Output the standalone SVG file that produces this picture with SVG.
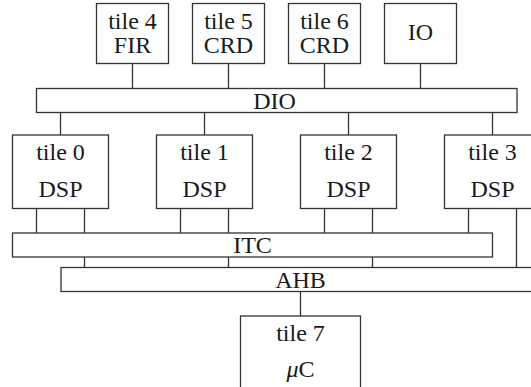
<svg xmlns="http://www.w3.org/2000/svg" width="531" height="387" viewBox="0 0 531 387">
<style>
rect{fill:#fff;stroke:#333;stroke-width:1.3}
line{stroke:#333;stroke-width:1.3}
</style>
<rect x="0" y="0" width="531" height="387" style="stroke:none"/>
<g id="connectors">
<line x1="132.5" y1="63.5" x2="132.5" y2="88.5"/>
<line x1="228.5" y1="63.5" x2="228.5" y2="88.5"/>
<line x1="324.5" y1="63.5" x2="324.5" y2="88.5"/>
<line x1="420.5" y1="63.5" x2="420.5" y2="88.5"/>
<line x1="60.5" y1="112.5" x2="60.5" y2="135"/>
<line x1="204.5" y1="112.5" x2="204.5" y2="135"/>
<line x1="348.5" y1="112.5" x2="348.5" y2="135"/>
<line x1="492.5" y1="112.5" x2="492.5" y2="135"/>
<line x1="36.5" y1="208.5" x2="36.5" y2="233"/>
<line x1="84.5" y1="208.5" x2="84.5" y2="233"/>
<line x1="180.5" y1="208.5" x2="180.5" y2="233"/>
<line x1="228.5" y1="208.5" x2="228.5" y2="233"/>
<line x1="324.5" y1="208.5" x2="324.5" y2="233"/>
<line x1="372.5" y1="208.5" x2="372.5" y2="233"/>
<line x1="468.5" y1="208.5" x2="468.5" y2="233"/>
<line x1="516.5" y1="208.5" x2="516.5" y2="267.5"/>
<line x1="84.5" y1="257" x2="84.5" y2="267.5"/>
<line x1="228.5" y1="257" x2="228.5" y2="267.5"/>
<line x1="372.5" y1="257" x2="372.5" y2="267.5"/>
<line x1="300.5" y1="291.5" x2="300.5" y2="316"/>
</g>
<g font-family="Liberation Serif, DejaVu Serif, Times New Roman, serif" font-size="24" fill="#1a1a1a" text-anchor="middle">
<g id="tile4"><rect x="96.5" y="3.5" width="72" height="60"/><text x="132.5" y="28.5">tile 4</text><text x="132.5" y="52.5">FIR</text></g>
<g id="tile5"><rect x="192.5" y="3.5" width="72" height="60"/><text x="228.5" y="28.5">tile 5</text><text x="228.5" y="52.5">CRD</text></g>
<g id="tile6"><rect x="288.5" y="3.5" width="72" height="60"/><text x="324.5" y="28.5">tile 6</text><text x="324.5" y="52.5">CRD</text></g>
<g id="io"><rect x="384.5" y="3.5" width="72" height="60"/><text x="420.5" y="40">IO</text></g>
<g id="dio"><rect x="36.5" y="88.5" width="480.5" height="24"/><text x="274.5" y="108.5">DIO</text></g>
<g id="tile0"><rect x="12.5" y="135" width="96" height="73.5"/><text x="60.5" y="160">tile 0</text><text x="60.5" y="197">DSP</text></g>
<g id="tile1"><rect x="156.5" y="135" width="96" height="73.5"/><text x="204.5" y="160">tile 1</text><text x="204.5" y="197">DSP</text></g>
<g id="tile2"><rect x="300.5" y="135" width="96" height="73.5"/><text x="348.5" y="160">tile 2</text><text x="348.5" y="197">DSP</text></g>
<g id="tile3"><rect x="444.5" y="135" width="96" height="73.5"/><text x="492.5" y="160">tile 3</text><text x="492.5" y="197">DSP</text></g>
<g id="itc"><rect x="12.5" y="233" width="480" height="24"/><text x="252.5" y="252.5">ITC</text></g>
<g id="ahb"><rect x="61" y="267.5" width="480" height="24"/><text x="300.5" y="288">AHB</text></g>
<g id="tile7"><rect x="240.5" y="316" width="120" height="80"/><text x="300.5" y="341">tile 7</text><text x="300.5" y="377"><tspan font-style="italic">μ</tspan>C</text></g>
</g>
</svg>
